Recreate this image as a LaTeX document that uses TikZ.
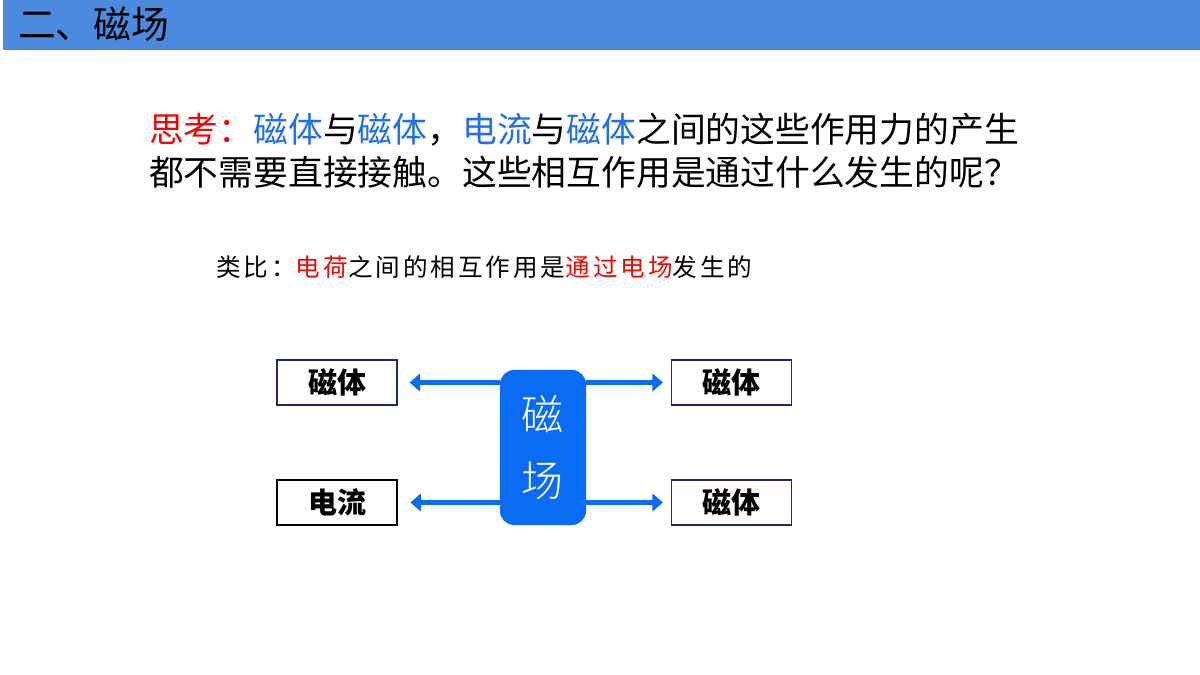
\documentclass[tikz,border=0pt]{standalone}
\usepackage{fontspec}
\newfontfamily\cjk{Noto Sans CJK SC}
\newfontfamily\cjkwide[LetterSpace=12]{Noto Sans CJK SC}
\usetikzlibrary{arrows.meta}
\definecolor{barblue}{HTML}{4A8BE0}
\definecolor{fieldblue}{HTML}{0A6CF5}
\definecolor{wordblue}{HTML}{1E6FF0}
\definecolor{boxline}{HTML}{1F2A60}
\tikzset{
  item/.style={draw=boxline, line width=0.6pt, minimum width=120*0.02cm, minimum height=45*0.02cm,
               inner sep=0pt, font=\cjk\fontsize{16.5}{16.5}\selectfont\bfseries},
  link/.style={draw=fieldblue, line width=2.8pt, -{Triangle[width=10pt,length=6pt]}}
}
\begin{document}
\begin{tikzpicture}[x=0.02cm,y=-0.02cm]
\useasboundingbox (0,0) rectangle (1200,675);

% Title bar
\fill[barblue] (3,0) rectangle (1200,50);
\node[anchor=west, font=\cjk\fontsize{21.5}{21.5}\selectfont] (title) at (12,24) {二、磁场};

% Question text
\node[anchor=west, font=\cjk\fontsize{19.8}{19.8}\selectfont] (q1) at (143,130)
  {\textcolor{red}{思考：}\textcolor{wordblue}{磁体}与\textcolor{wordblue}{磁体}，\textcolor{wordblue}{电流}与\textcolor{wordblue}{磁体}之间的这些作用力的产生};
\node[anchor=west, font=\cjk\fontsize{19.8}{19.8}\selectfont] (q2) at (143,172)
  {都不需要直接接触。这些相互作用是通过什么发生的呢？};
\node[anchor=west, font=\cjkwide\fontsize{14}{14}\selectfont] (hint) at (210,267)
  {类比：\textcolor{red}{电荷}之间的相互作用是\textcolor{red}{通过电场}发生的};

% Boxes
\node[item] (m1) at (337,382.5) {磁体};
\node[item, draw=black, line width=1.6pt] (cur) at (337,502.5) {电流};
\node[item] (m2) at (731.5,382.5) {磁体};
\node[item] (m3) at (731.5,502.5) {磁体};

% Field
\node[fill=fieldblue, rounded corners=8pt, minimum width=86*0.02cm, minimum height=155*0.02cm,
      inner sep=0pt, text=white, align=center, font=\fontspec{Noto Sans CJK SC Light}\fontsize{24}{38}\selectfont] (field) at (543,447.5) {磁\\场};

\coordinate (fl1) at (field.west |- m1);
\coordinate (fl2) at (field.west |- cur);
\coordinate (fr1) at (field.east |- m2);
\coordinate (fr2) at (field.east |- m3);
\draw[link] (fl1) -- ([xshift=12*0.02cm]m1.east);
\draw[link] (fl2) -- ([xshift=12*0.02cm]cur.east);
\draw[link] (fr1) -- ([xshift=-8*0.02cm]m2.west);
\draw[link] (fr2) -- ([xshift=-8*0.02cm]m3.west);
\end{tikzpicture}
\end{document}
